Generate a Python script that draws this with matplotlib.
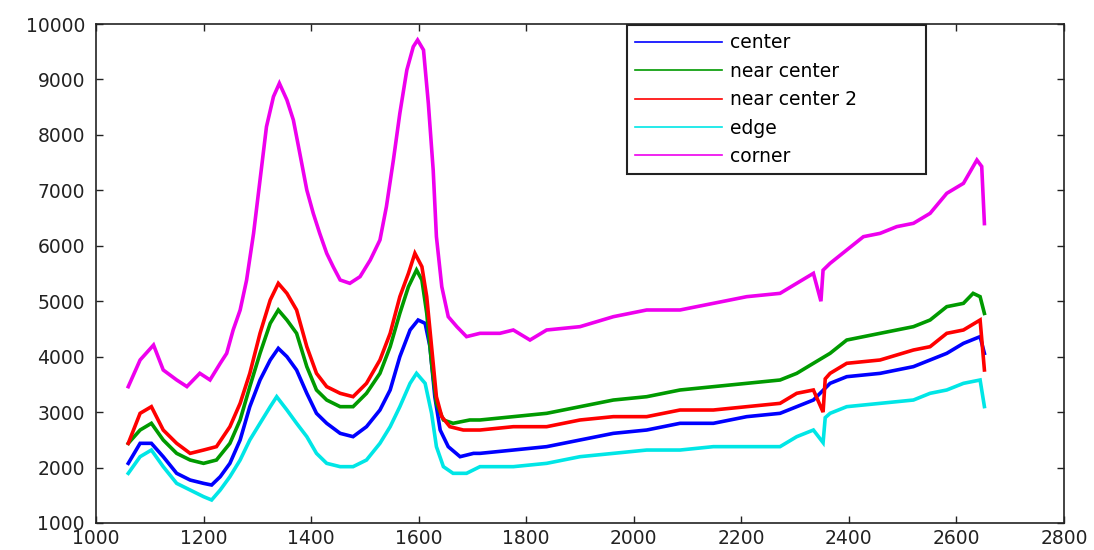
import matplotlib
matplotlib.use("Agg")
import matplotlib.pyplot as plt
from matplotlib.lines import Line2D

plt.rcParams['font.family'] = ['DejaVu Sans']

# ---- data ----
corner_x = [1060, 1082, 1107, 1125, 1150, 1169, 1193, 1212, 1231, 1243, 1255, 1268, 1280, 1293,
            1305, 1317, 1330, 1341, 1355, 1367, 1379, 1392, 1404, 1416, 1429, 1441, 1454, 1472,
            1491, 1510, 1528, 1540, 1553, 1565, 1578, 1590, 1598, 1609, 1618, 1627, 1633, 1643,
            1655, 1671, 1689, 1714, 1751, 1776, 1807, 1838, 1900, 1962, 2024, 2086, 2148, 2210,
            2272, 2303, 2334, 2348, 2352, 2365, 2396, 2427, 2458, 2489, 2520, 2551, 2582, 2613,
            2638, 2647, 2652]
corner_y = [3459, 3940, 4210, 3760, 3580, 3460, 3700, 3580, 3880, 4060, 4480, 4840, 5380, 6224,
            7186, 8148, 8690, 8930, 8630, 8268, 7667, 7006, 6585, 6224, 5864, 5623, 5383, 5323,
            5443, 5743, 6104, 6705, 7547, 8389, 9170, 9591, 9711, 9531, 8569, 7367, 6164, 5262,
            4721, 4541, 4361, 4421, 4421, 4481, 4300, 4481, 4541, 4721, 4842, 4842, 4962, 5082,
            5142, 5323, 5503, 5000, 5560, 5683, 5924, 6164, 6224, 6345, 6405, 6585, 6946, 7126,
            7547, 7430, 6400]

red_x = [1060, 1082, 1103, 1125, 1150, 1175, 1200, 1224, 1249, 1268, 1286, 1305, 1324, 1339,
         1355, 1373, 1392, 1410, 1429, 1454, 1478, 1503, 1528, 1547, 1565, 1581, 1593, 1606,
         1615, 1624, 1633, 1643, 1658, 1683, 1714, 1776, 1838, 1900, 1962, 2024, 2086, 2148,
         2210, 2272, 2303, 2334, 2352, 2356, 2365, 2396, 2458, 2520, 2551, 2582, 2613, 2644, 2652]
red_y = [2437, 2978, 3098, 2677, 2437, 2256, 2316, 2377, 2737, 3158, 3699, 4421, 5022, 5322,
         5142, 4842, 4180, 3699, 3459, 3339, 3278, 3519, 3940, 4421, 5082, 5503, 5864, 5623,
         5082, 4180, 3278, 2918, 2737, 2677, 2677, 2737, 2737, 2858, 2918, 2918, 3038, 3038,
         3098, 3158, 3339, 3399, 3000, 3600, 3699, 3880, 3940, 4120, 4180, 4421, 4481, 4661, 3760]

green_x = [1060, 1082, 1103, 1125, 1150, 1175, 1200, 1224, 1249, 1268, 1286, 1305, 1324, 1339,
           1355, 1373, 1392, 1410, 1429, 1454, 1478, 1503, 1528, 1547, 1565, 1581, 1596, 1606,
           1615, 1624, 1633, 1646, 1664, 1695, 1714, 1776, 1838, 1900, 1962, 2024, 2086, 2148,
           2210, 2272, 2303, 2334, 2365, 2396, 2458, 2520, 2551, 2582, 2613, 2631, 2644, 2652]
green_y = [2437, 2677, 2798, 2497, 2256, 2136, 2076, 2136, 2437, 2858, 3459, 4060, 4601, 4842,
           4661, 4421, 3820, 3399, 3218, 3098, 3098, 3339, 3699, 4180, 4782, 5262, 5563, 5383,
           4782, 3880, 3158, 2858, 2798, 2858, 2858, 2918, 2978, 3098, 3218, 3278, 3399, 3459,
           3519, 3579, 3699, 3880, 4060, 4300, 4421, 4541, 4661, 4902, 4962, 5142, 5082, 4780]

blue_x = [1060, 1082, 1103, 1125, 1150, 1175, 1200, 1215, 1231, 1249, 1268, 1286, 1305, 1324,
          1339, 1355, 1373, 1392, 1410, 1429, 1454, 1478, 1503, 1528, 1547, 1565, 1584, 1599,
          1612, 1621, 1630, 1640, 1655, 1677, 1702, 1714, 1776, 1838, 1900, 1962, 2024, 2086,
          2148, 2210, 2272, 2303, 2334, 2365, 2396, 2458, 2520, 2551, 2582, 2613, 2644, 2652]
blue_y = [2076, 2437, 2437, 2196, 1896, 1775, 1715, 1685, 1835, 2076, 2497, 3098, 3579, 3940,
          4150, 4000, 3759, 3339, 2978, 2798, 2617, 2557, 2737, 3038, 3399, 4000, 4481, 4661,
          4601, 4180, 3278, 2677, 2377, 2196, 2256, 2256, 2316, 2377, 2497, 2617, 2677, 2798,
          2798, 2918, 2978, 3098, 3218, 3519, 3639, 3699, 3820, 3940, 4060, 4240, 4361, 4060]

cyan_x = [1060, 1082, 1103, 1125, 1150, 1175, 1200, 1215, 1231, 1249, 1268, 1286, 1305, 1324,
          1336, 1355, 1373, 1392, 1410, 1429, 1454, 1478, 1503, 1528, 1547, 1565, 1584, 1596,
          1612, 1624, 1633, 1646, 1664, 1689, 1714, 1776, 1838, 1900, 1962, 2024, 2086, 2148,
          2210, 2272, 2303, 2334, 2352, 2356, 2365, 2396, 2458, 2520, 2551, 2582, 2613, 2644, 2652]
cyan_y = [1896, 2196, 2316, 2016, 1715, 1595, 1475, 1415, 1595, 1835, 2136, 2497, 2798, 3098,
          3278, 3038, 2798, 2557, 2256, 2076, 2016, 2016, 2136, 2437, 2737, 3098, 3519, 3699,
          3519, 2978, 2377, 2016, 1896, 1896, 2016, 2016, 2076, 2196, 2256, 2316, 2316, 2377,
          2377, 2377, 2557, 2677, 2450, 2900, 2978, 3098, 3158, 3218, 3339, 3399, 3519, 3579, 3100]

labels = ['center', 'near center', 'near center 2', 'edge', 'corner']
xticks = [1000, 1200, 1400, 1600, 1800, 2000, 2200, 2400, 2600, 2800]
yticks = [1000, 2000, 3000, 4000, 5000, 6000, 7000, 8000, 9000, 10000]

series = [(blue_x, blue_y, '#0000ff'),
          (green_x, green_y, '#009a00'),
          (red_x, red_y, '#ff0000'),
          (cyan_x, cyan_y, '#00e6e6'),
          (corner_x, corner_y, '#ee00ee')]

fig = plt.figure(figsize=(10.94, 5.50), dpi=100)
ax = fig.add_axes([96 / 1094, 1 - 523 / 550, 968 / 1094, 499 / 550])

handles = []
for (xs, ys, c), lab in zip(series, labels):
    h, = ax.plot(xs, ys, color=c, lw=2.6, label=lab, solid_joinstyle='miter')
    handles.append(h)

ax.set_xlim(1000, 2800)
ax.set_ylim(1000, 10000)
ax.set_xticks(xticks)
ax.set_yticks(yticks)
ax.set_xticklabels([str(t) for t in xticks])
ax.set_yticklabels([str(t) for t in yticks])
ax.tick_params(direction='in', length=5, width=1.0, top=True, right=True,
               labelsize=13.5, colors='#222222')
ax.tick_params(axis='y', pad=8)
ax.tick_params(axis='x', pad=4)
for s in ax.spines.values():
    s.set_linewidth(1.2)
    s.set_color('#222222')

leg_handles = [Line2D([0], [0], color=h.get_color(), lw=1.2) for h in handles]
leg = ax.legend(leg_handles, labels, loc='upper left',
                bbox_to_anchor=(531 / 968, 1 - 146 / 499, 299 / 968, 145 / 499),
                mode='expand', borderaxespad=0, fancybox=False, framealpha=1,
                edgecolor='#222222', fontsize=13.5, handlelength=4.6,
                handletextpad=0.45, labelspacing=0.5, borderpad=0.45)
leg.get_frame().set_linewidth(1.5)

fig.savefig('out.png', dpi=100)
